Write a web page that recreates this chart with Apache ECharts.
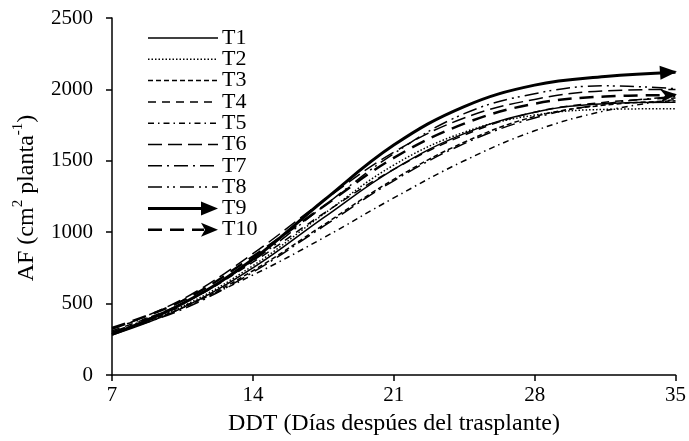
<!DOCTYPE html>
<html>
<head>
<meta charset="utf-8">
<script src="https://cdn.jsdelivr.net/npm/echarts@6/dist/echarts.min.js"></script>
<style>
html,body{margin:0;padding:0;background:#fff;}
#chart{width:689px;height:441px;}
</style>
</head>
<body>
<div id="chart"></div>
<script>
// ---- data ----
const days = [7, 10.5, 14, 17.5, 21, 24.5, 28, 31.5, 35];
const seriesNames = ['T1','T2','T3','T4','T5','T6','T7','T8','T9','T10'];
const T1  = [280, 470, 750, 1100, 1440, 1690, 1840, 1900, 1910];
const T2  = [290, 480, 765, 1125, 1470, 1700, 1820, 1860, 1865];
const T3  = [300, 470, 730, 1050, 1370, 1630, 1810, 1890, 1920];
const T4  = [310, 500, 790, 1130, 1440, 1680, 1840, 1910, 1940];
const T5  = [330, 480, 700, 960, 1240, 1500, 1710, 1850, 1930];
const T6  = [320, 530, 850, 1220, 1560, 1800, 1930, 1990, 2000];
const T7  = [295, 460, 720, 1040, 1360, 1620, 1800, 1900, 1950];
const T8  = [300, 500, 800, 1180, 1550, 1830, 1970, 2025, 2005];
const T9  = [285, 500, 810, 1220, 1610, 1880, 2030, 2090, 2120];
const T10 = [330, 520, 830, 1180, 1520, 1760, 1900, 1950, 1960];
const allValues = [T1,T2,T3,T4,T5,T6,T7,T8,T9,T10];
const xTicks = [7, 14, 21, 28, 35];
const yTicks = [0, 500, 1000, 1500, 2000, 2500];

// ---- styles ----
const FONT = "'Times New Roman', 'Liberation Serif', serif";
const styles = [
  {w:1.5, dash:null},
  {w:1.5, dash:[1.5,2]},
  {w:1.5, dash:[5,3]},
  {w:1.5, dash:[8,6]},
  {w:1.5, dash:[6,4,1.5,4]},
  {w:1.5, dash:[14,6]},
  {w:1.5, dash:[14,5,2,5]},
  {w:1.5, dash:[14,5,2,4,2,5]},
  {w:3, dash:null, arrow:'solid'},
  {w:2.5, dash:[14,8], arrow:'stealth'}
];
const arrowSolid = 'path://M0,0 L10,5 L0,10 Z';
const arrowStealth = 'path://M0,0 L10,5 L0,10 L3,5 Z';

const series = allValues.map((vals, k) => {
  const st = styles[k];
  const data = days.map((d, i) => {
    const item = {value: [d, vals[i]]};
    if (st.arrow && i === days.length - 1) {
      item.symbol = st.arrow === 'solid' ? arrowSolid : arrowStealth;
      item.symbolSize = [17, 14];
      item.symbolRotate = 4;
      item.symbolOffset = [-7, 0];
    }
    return item;
  });
  return {
    name: seriesNames[k],
    type: 'line',
    data: data,
    smooth: 0.4,
    symbol: 'none',
    showSymbol: true,
    showAllSymbol: true,
    silent: true,
    animation: false,
    itemStyle: {color: '#000'},
    lineStyle: {color: '#000', width: st.w, type: st.dash ? st.dash : 'solid', cap: 'butt'},
    z: 2
  };
});

// legend (custom, drawn at top-left inside plot)
const legendGraphics = [];
seriesNames.forEach((n, i) => {
  const y = 38 + i * 21.3;
  const st = styles[i];
  const x0 = 148, x1 = 218;
  const lineEnd = st.arrow ? 204 : x1;
  legendGraphics.push({
    type: 'line',
    shape: {x1: x0, y1: y, x2: lineEnd, y2: y},
    style: {stroke: '#000', lineWidth: st.w, lineDash: st.dash || null, lineCap: 'butt'},
    silent: true
  });
  if (st.arrow === 'solid') {
    legendGraphics.push({type: 'polygon', shape: {points: [[201, y-7],[218, y],[201, y+7]]}, style: {fill: '#000'}, silent: true});
  } else if (st.arrow === 'stealth') {
    legendGraphics.push({type: 'polygon', shape: {points: [[201, y-7],[218, y],[201, y+7],[205, y]]}, style: {fill: '#000'}, silent: true});
  }
  legendGraphics.push({
    type: 'text', x: 222, y: y,
    style: {text: n, fill: '#000', font: '22px ' + FONT, verticalAlign: 'middle', align: 'left'},
    silent: true
  });
});

const option = {
  animation: false,
  backgroundColor: '#fff',
  grid: {left: 112, right: 12, top: 18, bottom: 66},
  xAxis: {
    type: 'value', min: 7, max: 35, interval: 7,
    axisLine: {show: true, onZero: false, lineStyle: {color: '#000', width: 1.5}},
    axisTick: {show: true, inside: false, length: 6, lineStyle: {color: '#000', width: 1.5}},
    axisLabel: {color: '#000', fontFamily: FONT, fontSize: 21, margin: 10,
      formatter: v => xTicks.includes(v) ? String(v) : ''},
    splitLine: {show: false}
  },
  yAxis: {
    type: 'value', min: 0, max: 2500, interval: 500,
    axisLine: {show: true, lineStyle: {color: '#000', width: 1.5}},
    axisTick: {show: true, inside: false, length: 6, lineStyle: {color: '#000', width: 1.5}},
    axisLabel: {color: '#000', fontFamily: FONT, fontSize: 21, margin: 19,
      formatter: v => yTicks.includes(v) ? String(v) : ''},
    splitLine: {show: false}
  },
  series: series,
  graphic: legendGraphics.concat([
    {
      type: 'text', x: 394, y: 424,
      style: {text: 'DDT (Días despúes del trasplante)', fill: '#000', font: '24px ' + FONT, align: 'center', verticalAlign: 'middle'},
      silent: true
    },
    {
      type: 'text', x: 25, y: 198, rotation: Math.PI / 2,
      style: {
        text: '{b|AF (cm}{s|2}{b| planta}{s|-1}{b|)}',
        align: 'center', verticalAlign: 'middle',
        rich: {
          b: {fontFamily: FONT, fontSize: 24, fill: '#000', color: '#000', lineHeight: 28, verticalAlign: 'bottom'},
          s: {fontFamily: FONT, fontSize: 15, fill: '#000', color: '#000', lineHeight: 28, verticalAlign: 'top', padding: [0, 0, 12, 0]}
        }
      },
      silent: true
    }
  ])
};

const chart = echarts.init(document.getElementById('chart'), null, {renderer: 'canvas'});
chart.setOption(option);
</script>
</body>
</html>
